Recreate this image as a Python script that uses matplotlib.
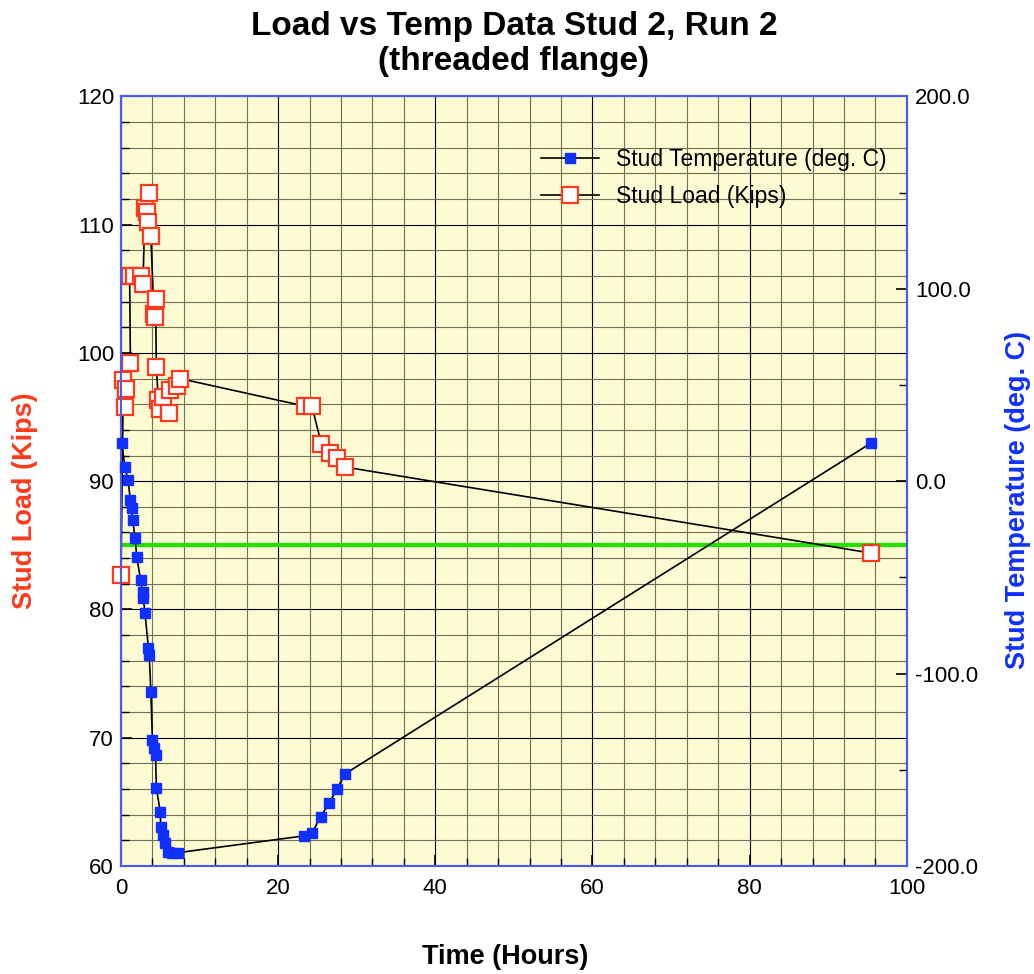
import numpy as np
import matplotlib
matplotlib.use("Agg")
import matplotlib.pyplot as plt
from matplotlib.ticker import MultipleLocator, FormatStrFormatter

plt.rcParams['font.family'] = ['Liberation Sans', 'DejaVu Sans']

# Stud load (Kips) vs time (hours)
load_t = [0.0, 0.3, 0.5, 0.7, 1.2, 1.1, 1.6, 2.5, 2.8, 3.05, 3.3, 3.5, 3.6,
          3.8, 4.2, 4.3, 4.4, 4.5, 4.75, 5.0, 5.4, 6.1, 6.2, 7.1, 7.5,
          23.4, 24.3, 25.5, 26.6, 27.5, 28.5, 95.4]
load_v = [82.7, 97.9, 95.8, 97.2, 99.2, 106.0, 106.0, 106.0, 105.4, 111.3, 111.0, 110.2, 112.5,
          109.1, 103.0, 102.8, 104.2, 98.9, 96.3, 95.6, 96.6, 95.3, 97.1, 97.4, 98.0,
          95.85, 95.85, 92.9, 92.2, 91.8, 91.1, 84.4]

# Stud temperature (deg. C) vs time (hours)
temp_t = [0.1, 0.5, 0.9, 1.2, 1.35, 1.5, 1.8, 2.0, 2.5, 2.75, 2.85, 3.05, 3.5, 3.6,
          3.8, 4.0, 4.25, 4.4, 4.5, 5.0, 5.05, 5.3, 5.6, 6.0, 6.45, 7.3,
          23.3, 24.3, 25.4, 26.5, 27.5, 28.5, 95.4]
temp_v = [19.6, 7.4, 0.5, -9.9, -14.2, -20.3, -29.8, -39.3, -51.4, -57.5, -60.9, -68.4, -86.9, -90.4,
          -109.4, -134.5, -138.8, -142.3, -159.6, -171.8, -179.6, -183.9, -188.2, -192.6, -193.1, -193.1,
          -184.4, -183.0, -174.5, -167.3, -160.0, -152.2, 19.7]

target_load = 85

red = '#ff3a1c'
blue = '#1030ff'
spine_blue = '#4a5cf0'

fig = plt.figure(figsize=(10.34, 9.74), dpi=100)
ax = fig.add_axes([0.117, 0.111, 0.760, 0.790])
ax.set_facecolor('#fdfbd2')
ax2 = ax.twinx()

ax.set_xlim(0, 100)
ax.set_ylim(60, 120)
ax2.set_ylim(-200, 200)

ax.xaxis.set_major_locator(MultipleLocator(20))
ax.xaxis.set_minor_locator(MultipleLocator(4))
ax.yaxis.set_major_locator(MultipleLocator(10))
ax.yaxis.set_minor_locator(MultipleLocator(2))
ax2.yaxis.set_major_locator(MultipleLocator(100))
ax2.yaxis.set_minor_locator(MultipleLocator(50))
ax2.yaxis.set_major_formatter(FormatStrFormatter('%.1f'))

ax.grid(True, which='major', color='black', linewidth=0.8)
ax.grid(True, which='minor', color='#707058', linewidth=0.8)
ax.set_axisbelow(True)

ax.tick_params(which='both', direction='in', labelsize=16)
ax.tick_params(axis='x', pad=9)
ax.tick_params(axis='y', pad=5)
ax.tick_params(which='major', length=8, width=1.2)
ax.tick_params(which='minor', length=6, width=1.0)
ax2.tick_params(which='both', direction='in', labelsize=16, pad=6)
ax2.tick_params(which='major', length=8, width=1.2)
ax2.tick_params(which='minor', length=6, width=1.0)

for a in (ax, ax2):
    for s in a.spines.values():
        s.set_color(spine_blue)
        s.set_linewidth(1.5)

ax.axhline(target_load, color='#22e000', linewidth=3, zorder=2)

lt, = ax2.plot(temp_t, temp_v, color='black', linewidth=1.2, marker='s',
               markersize=6.5, markerfacecolor=blue, markeredgecolor=blue,
               label='Stud Temperature (deg. C)', zorder=3, clip_on=False)
ll, = ax.plot(load_t, load_v, color='black', linewidth=1.2, marker='s',
              markersize=12, markerfacecolor='white', markeredgecolor=red,
              markeredgewidth=1.6, label='Stud Load (Kips)', zorder=4, clip_on=False)

ax2.legend(handles=[lt, ll], loc='upper right', bbox_to_anchor=(1.0, 0.96),
           frameon=False, fontsize=16.5, handlelength=2.5, labelspacing=0.6,
           handletextpad=0.75)

ax.set_xlabel('Time (Hours)', fontsize=19.5, fontweight='bold')
ax.xaxis.set_label_coords(0.489, -0.101)
ax.set_ylabel('Stud Load (Kips)', fontsize=19.5, fontweight='bold', color=red)
ax.yaxis.label.set_va('center')
ax.yaxis.set_label_coords(-0.122, 0.475)
ax2.set_ylabel('Stud Temperature (deg. C)', fontsize=19.5, fontweight='bold', color=blue,
               rotation=90)
ax2.yaxis.label.set_va('center')
ax2.yaxis.set_label_coords(1.142, 0.475)
ax.set_title('Load vs Temp Data Stud 2, Run 2\n(threaded flange)', fontsize=24,
             fontweight='bold', linespacing=1.17, pad=19)

fig.savefig('out.png', dpi=100)
